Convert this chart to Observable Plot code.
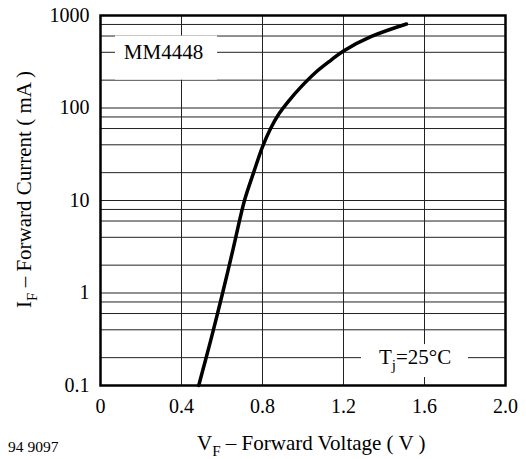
<!DOCTYPE html>
<html><head><meta charset="utf-8">
<script src="https://cdn.jsdelivr.net/npm/d3@7"></script>
<script src="https://cdn.jsdelivr.net/npm/@observablehq/plot@0.6"></script>
<style>
body{margin:0;background:#fff}
svg{display:block}
svg, svg text{font-family:'Liberation Serif','Times New Roman',Times,serif !important;}
</style>
</head><body><div id="chart"></div>
<script>
const voltage = [0.485, 0.543, 0.603, 0.655, 0.711, 0.756, 0.800, 0.840, 0.879, 0.928, 0.988, 1.062, 1.136, 1.200, 1.338, 1.511];
const current = [0.1, 0.3, 1, 3, 10, 20, 38, 60, 85, 118, 167, 242, 326, 414, 594, 810];
const xTicks = [0, 0.4, 0.8, 1.2, 1.6, 2.0];
const xTickLabels = ["0", "0.4", "0.8", "1.2", "1.6", "2.0"];
const yTicks = [0.1, 1, 10, 100, 1000];
const yTickLabels = ["0.1", "1", "10", "100", "1000"];
const xGrid = [0.4, 0.8, 1.2, 1.6];
const yGrid = [0.2, 0.4, 0.6, 0.8, 1, 2, 4, 6, 8, 10, 20, 40, 60, 80, 100, 200, 400, 600, 800];
const labelBoxes = [
  {x1: 0.074, x2: 0.578, y1: 200, y2: 600},
  {x1: 1.289, x2: 1.817, y1: 0.122, y2: 0.277}
];
const partLabel = {text: "MM4448", x: 0.311, y: 400};
const tempLabel = {main: "T", sub: "j", rest: "=25°C", x: 1.556, y: 0.2};
const xTitle = {main: "V", sub: "F", rest: " – Forward Voltage ( V )"};
const yTitle = {main: "I", sub: "F", rest: " – Forward Current ( mA )"};
const figNumber = "94 9097";

const font = "'Liberation Serif', 'Times New Roman', Times, serif";
const data = voltage.map((v, i) => ({v, c: current[i]}));

const svg = Plot.plot({
  width: 526, height: 459,
  marginLeft: 100, marginRight: 21, marginTop: 15, marginBottom: 74,
  style: {fontFamily: font, background: "white"},
  x: {domain: [0, 2], axis: null},
  y: {type: "log", domain: [0.1, 1000], axis: null},
  marks: [
    Plot.ruleX(xGrid, {x: d => d, stroke: "#222", strokeWidth: 1}),
    Plot.ruleY(yGrid, {y: d => d, stroke: "#222", strokeWidth: 1}),
    Plot.rect(labelBoxes, {x1: "x1", x2: "x2", y1: "y1", y2: "y2", fill: "white"}),
    Plot.line(data, {x: "v", y: "c", stroke: "black", strokeWidth: 3.5, curve: "catmull-rom"}),
    Plot.frame({stroke: "black", strokeWidth: 2.5}),
    Plot.text(xTicks, {x: d => d, frameAnchor: "bottom", dy: 27, text: (d, i) => xTickLabels[i], fontSize: 20, fill: "black"}),
    Plot.text(yTicks, {y: d => d, frameAnchor: "left", dx: -11, textAnchor: "end", text: (d, i) => yTickLabels[i], fontSize: 20, fill: "black"}),
    Plot.text([partLabel], {x: "x", y: "y", text: "text", fontSize: 21, fill: "black"})
  ]
});

const sx = svg.scale("x"), sy = svg.scale("y");
const root = d3.select(svg);

function subText(g, parts, size) {
  g.append("tspan").text(parts.main);
  g.append("tspan").attr("dy", size * 0.3).attr("font-size", size * 0.72).text(parts.sub);
  g.append("tspan").attr("dy", -size * 0.3).text(parts.rest);
}

const tj = root.append("text")
  .attr("x", sx.apply(tempLabel.x)).attr("y", sy.apply(tempLabel.y) + 7)
  .attr("text-anchor", "middle").attr("font-size", 21).attr("font-family", font);
subText(tj, tempLabel, 21);

const xt = root.append("text")
  .attr("x", 197).attr("y", 450).attr("text-anchor", "start")
  .attr("font-size", 21).attr("font-family", font);
subText(xt, xTitle, 21);

const yt = root.append("text")
  .attr("transform", "translate(31,308) rotate(-90)").attr("text-anchor", "start")
  .attr("font-size", 21).attr("font-family", font);
subText(yt, yTitle, 21);

root.append("text").attr("x", 8).attr("y", 452).attr("text-anchor", "start")
  .attr("font-size", 15.5).attr("font-family", font).text(figNumber);

document.getElementById("chart").append(svg);
</script>
</body></html>
